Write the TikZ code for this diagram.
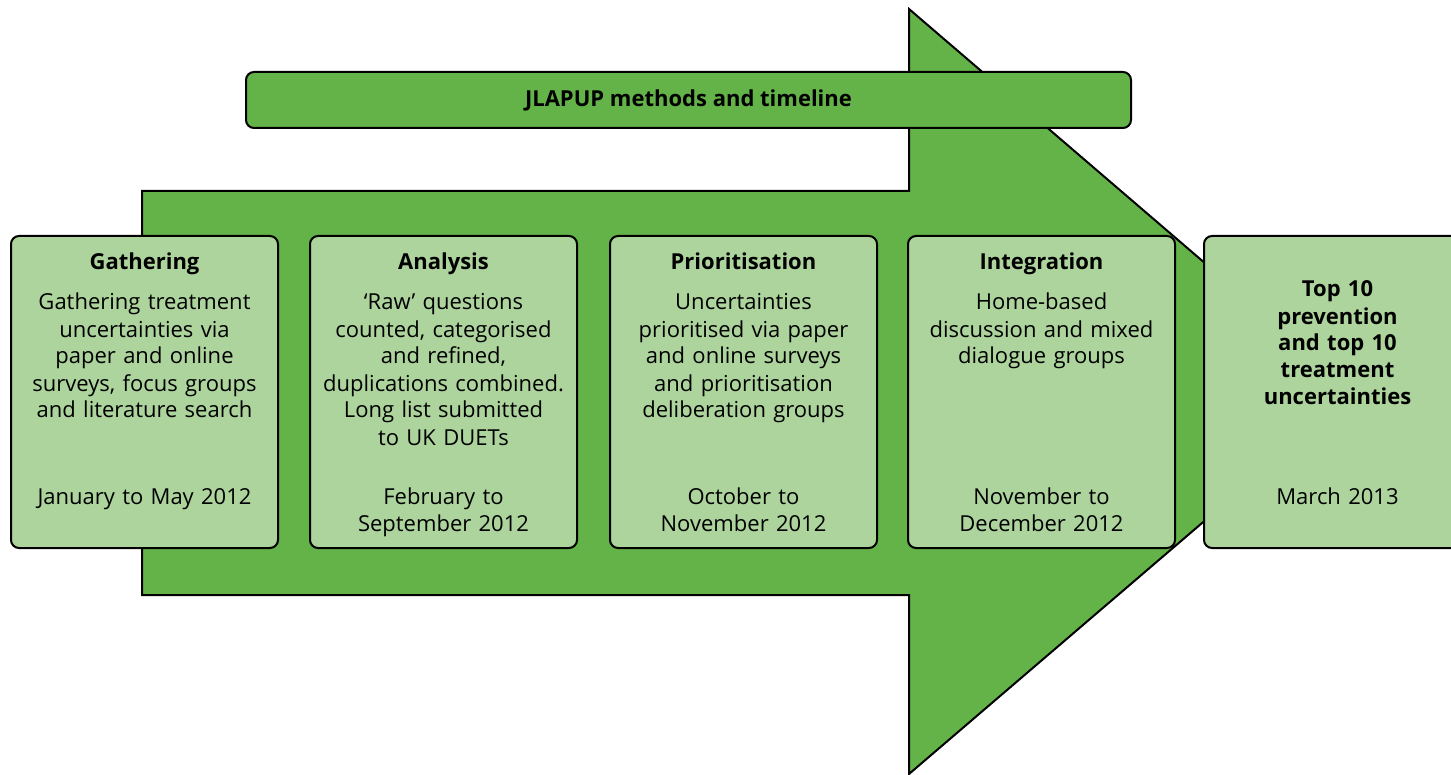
\documentclass[tikz,border=0pt]{standalone}
\usepackage{fontspec}
\setmainfont{Open Sans}
\usetikzlibrary{positioning}

\definecolor{arrowgreen}{RGB}{100,179,72}
\definecolor{boxgreen}{RGB}{173,212,157}

\tikzset{
	stagebox/.style={draw=black, line width=1pt, fill=boxgreen, rounded corners=4pt,
		minimum width=133.5pt, minimum height=156pt, inner sep=0pt},
	stagetitle/.style={anchor=base, font=\bfseries\fontsize{11}{13.5}\selectfont,
		align=center, text width=125pt, inner sep=0pt},
	stagetext/.style={anchor=base, font=\fontsize{11}{13.5}\selectfont,
		align=center, text width=125pt, inner sep=0pt}
}

\begin{document}
\begin{tikzpicture}[x=0.5pt,y=-0.5pt]
	\useasboundingbox (0,0) rectangle (1451,775);

	% big arrow
	\coordinate (shaft_top_left) at (142,191);
	\coordinate (shaft_top_right) at (909,191);
	\coordinate (head_top) at (909,9);
	\coordinate (head_tip) at (1355,392);
	\coordinate (head_bottom) at (909,774);
	\coordinate (shaft_bottom_right) at (909,595);
	\coordinate (shaft_bottom_left) at (142,595);
	\draw[line width=1pt, fill=arrowgreen, line join=miter]
		(shaft_top_left) -- (shaft_top_right) -- (head_top) -- (head_tip)
		-- (head_bottom) -- (shaft_bottom_right) -- (shaft_bottom_left) -- cycle;

	% heading bar
	\node[draw=black, line width=1pt, fill=arrowgreen, rounded corners=4pt,
		minimum width=442.5pt, minimum height=28pt, inner sep=0pt,
		font=\bfseries\fontsize{11}{13.5}\selectfont] (heading) at (688.5,100)
		{JLAPUP methods and timeline};

	% stage boxes
	\node[stagebox] (gathering) at (144.5,392) {};
	\node[stagebox, right=15pt of gathering] (analysis) {};
	\node[stagebox, right=15.5pt of analysis] (prioritisation) {};
	\node[stagebox, right=14.5pt of prioritisation] (integration) {};
	\node[stagebox, right=13.5pt of integration] (topten) {};

	% gathering
	\node[stagetitle] (gathering_title) at ([yshift=-17.5pt]gathering.north) {Gathering};
	\node[stagetext] (gathering_text) at ([yshift=-37.5pt]gathering.north)
		{Gathering treatment\\uncertainties via\\paper and online\\surveys, focus groups\\and literature search};
	\node[stagetext] (gathering_date) at ([yshift=-134.5pt]gathering.north) {January to May 2012};

	% analysis
	\node[stagetitle] (analysis_title) at ([yshift=-17.5pt]analysis.north) {Analysis};
	\node[stagetext] (analysis_text) at ([yshift=-37.5pt]analysis.north)
		{‘Raw’ questions\\counted, categorised\\and refined,\\duplications combined.\\Long list submitted\\to UK DUETs};
	\node[stagetext] (analysis_date) at ([yshift=-134.5pt]analysis.north) {February to\\September 2012};

	% prioritisation
	\node[stagetitle] (prioritisation_title) at ([yshift=-17.5pt]prioritisation.north) {Prioritisation};
	\node[stagetext] (prioritisation_text) at ([yshift=-37.5pt]prioritisation.north)
		{Uncertainties\\prioritised via paper\\and online surveys\\and prioritisation\\deliberation groups};
	\node[stagetext] (prioritisation_date) at ([yshift=-134.5pt]prioritisation.north) {October to\\November 2012};

	% integration
	\node[stagetitle] (integration_title) at ([yshift=-17.5pt]integration.north) {Integration};
	\node[stagetext] (integration_text) at ([yshift=-37.5pt]integration.north)
		{Home-based\\discussion and mixed\\dialogue groups};
	\node[stagetext] (integration_date) at ([yshift=-134.5pt]integration.north) {November to\\December 2012};

	% result
	\node[stagetitle] (topten_title) at ([yshift=-31pt]topten.north)
		{Top 10\\prevention\\and top 10\\treatment\\uncertainties};
	\node[stagetext] (topten_date) at ([yshift=-134.5pt]topten.north) {March 2013};
\end{tikzpicture}
\end{document}
